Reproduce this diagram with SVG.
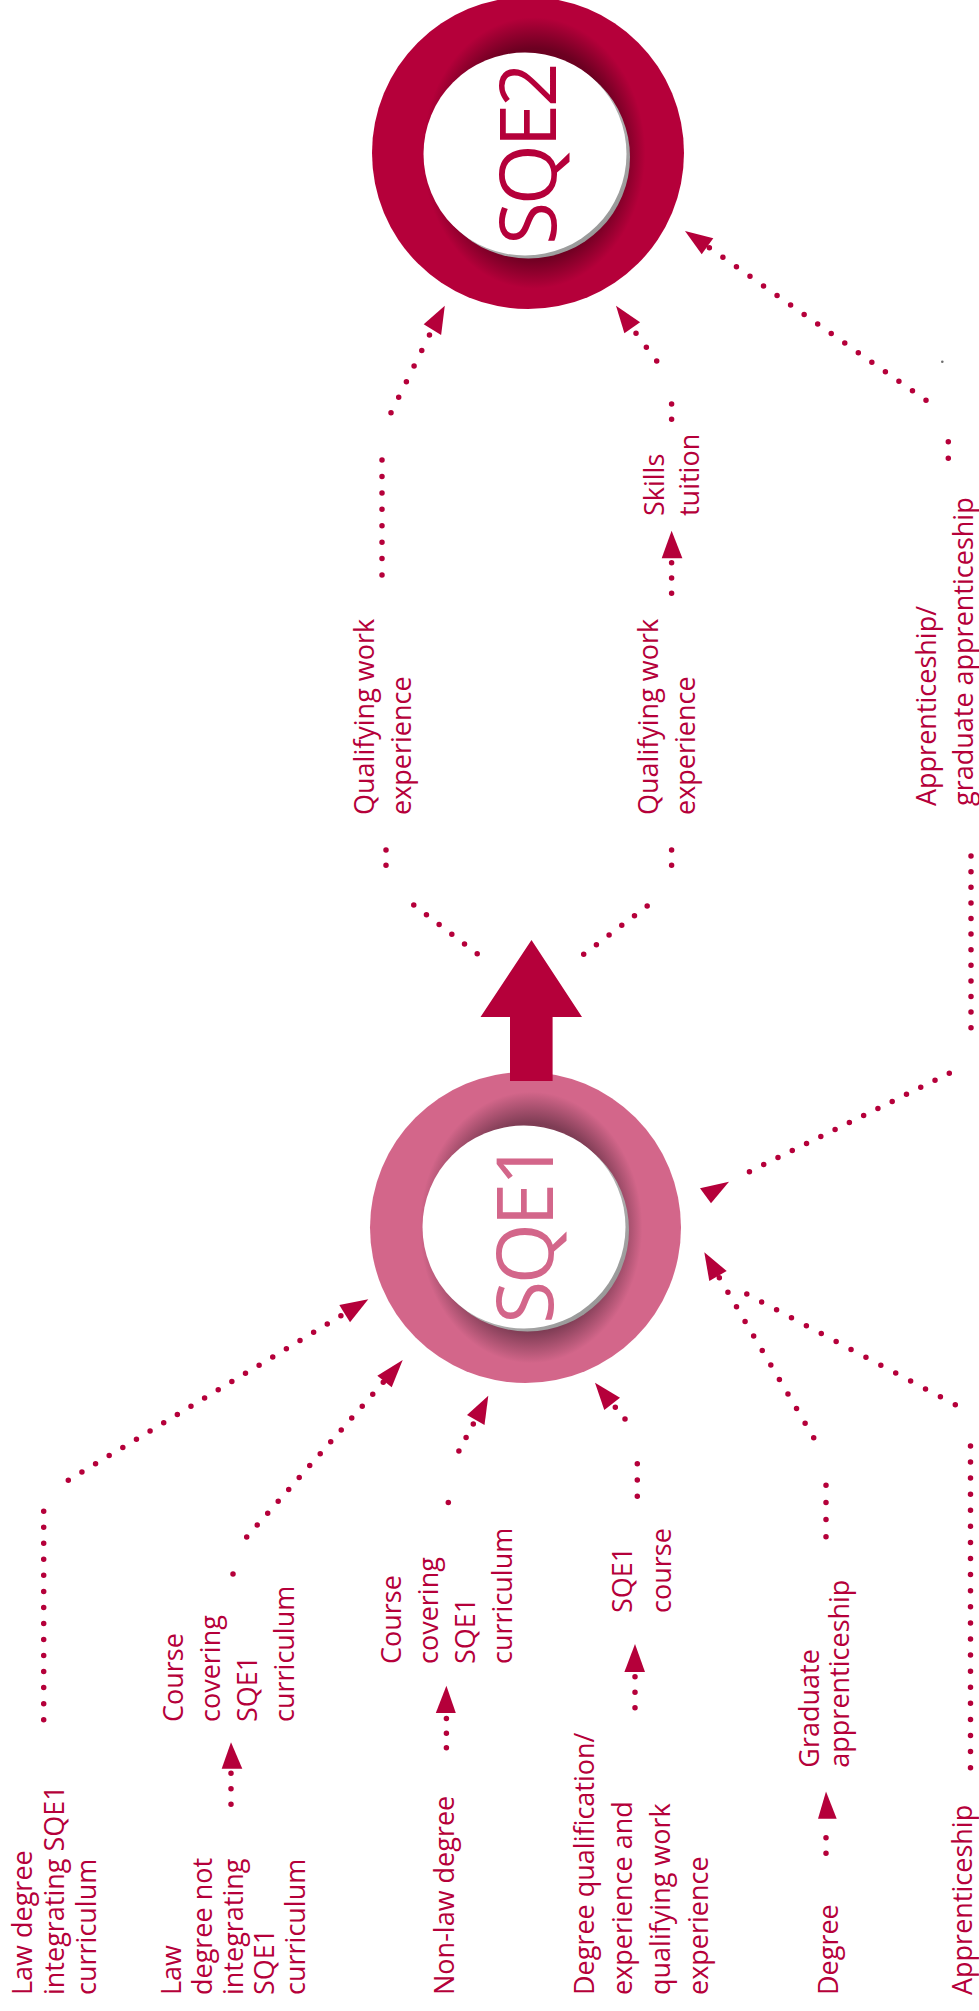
<svg xmlns="http://www.w3.org/2000/svg" width="979" height="2011" viewBox="0 0 979 2011">
  <style>
    .lbl { font-family: 'Open Sans', 'Liberation Sans', sans-serif; font-size: 27px; fill: #b5003a; }
    .big { font-family: 'Open Sans', 'Liberation Sans', sans-serif; font-size: 78px; letter-spacing: -3px; text-anchor: middle; }
    .dots { fill: none; stroke: #b5003a; stroke-width: 5.5; stroke-linecap: round; }
    .dot { fill: #b5003a; }
    .head { fill: #b5003a; }
  </style>
  <defs>
    <radialGradient id="ring2" gradientUnits="userSpaceOnUse" cx="0" cy="0" r="156" gradientTransform="translate(534,153) scale(0.82,1)">
      <stop offset="0.6" stop-color="#680020"/>
      <stop offset="0.67" stop-color="#6c0021"/>
      <stop offset="0.87" stop-color="#b5003a"/>
    </radialGradient>
    <radialGradient id="ring1" gradientUnits="userSpaceOnUse" cx="0" cy="0" r="156" gradientTransform="translate(531,1227.5) scale(0.82,1)">
      <stop offset="0.6" stop-color="#7c3b52"/>
      <stop offset="0.67" stop-color="#7f3d55"/>
      <stop offset="0.87" stop-color="#d3668a"/>
    </radialGradient>
    <linearGradient id="rim" x1="0" y1="0" x2="1" y2="1">
      <stop offset="0" stop-color="#e6e6e6"/>
      <stop offset="1" stop-color="#8c8c8c"/>
    </linearGradient>
  </defs>

  <!-- SQE2 target ring -->
  <g id="sqe2">
    <circle cx="528" cy="153" r="156" fill="url(#ring2)"/>
    <circle cx="528.5" cy="157" r="101.5" fill="url(#rim)"/>
    <circle cx="525" cy="154" r="101.5" fill="#ffffff"/>
    <text class="big" fill="#b5003a" transform="translate(556,155) rotate(-90)">SQE2</text>
  </g>

  <!-- SQE1 ring -->
  <g id="sqe1">
    <circle cx="525.5" cy="1227.5" r="155.5" fill="url(#ring1)"/>
    <circle cx="527.5" cy="1230" r="101.5" fill="url(#rim)"/>
    <circle cx="524" cy="1227" r="101.5" fill="#ffffff"/>
    <text class="big" fill="#d3668a" transform="translate(553,1234) rotate(-90)">SQE1</text>
  </g>

  <!-- progression arrow SQE1 -> SQE2 -->
  <g id="main-arrow">
    <polygon class="head" points="531.5,940 582,1017 552.6,1017 552.6,1081 510,1081 510,1017 480.5,1017"/>
  </g>

  <!-- dotted connectors and arrowheads -->
  <g id="connectors">
    <!-- upper left: qualifying work experience -->
    <path class="dots" d="M477.2,953.7 L413.7,905" stroke-dasharray="0 15.99"/>
    <path class="dots" d="M386,865.3 L386,850" stroke-dasharray="0 15.29"/>
    <path class="dots" d="M382,575 L382,460" stroke-dasharray="0 16.42"/>
    <path class="dots" d="M391,412.7 L429.5,335" stroke-dasharray="0 17.33"/>
    <polygon class="head" points="444.8,305.7 423.7,324.3 441.1,335"/>

    <!-- upper right: qualifying work experience + skills tuition -->
    <path class="dots" d="M583.7,954.3 L647.2,906" stroke-dasharray="0 15.95"/>
    <path class="dots" d="M671.6,865.3 L671.6,850" stroke-dasharray="0 15.29"/>
    <path class="dots" d="M671.6,593.3 L671.6,562.7" stroke-dasharray="0 15.29"/>
    <polygon class="head" points="671.6,530.7 661.7,558.3 682.4,558.3"/>
    <path class="dots" d="M671.6,419.3 L671.6,404" stroke-dasharray="0 15.29"/>
    <path class="dots" d="M656.7,361 L636,333.3" stroke-dasharray="0 17.28"/>
    <polygon class="head" points="616,305.7 624.4,333.3 640.1,322.3"/>

    <!-- far right: apprenticeship / graduate apprenticeship -->
    <path class="dots" d="M949.3,1073.3 L749.3,1171.7" stroke-dasharray="0 15.91"/>
    <polygon class="head" points="700,1188.3 729,1181.7 711,1203.3"/>
    <path class="dots" d="M971,1027.7 L971,856" stroke-dasharray="0 15.6"/>
    <path class="dots" d="M948.3,458.3 L948.3,441.7" stroke-dasharray="0 16.59"/>
    <path class="dots" d="M926,400.3 L709.3,247.7" stroke-dasharray="0 16.56"/>
    <polygon class="head" points="685,231 713.3,238.3 701.7,254.3"/>
    <circle cx="942.3" cy="361.7" r="1.3" fill="#6e6e6e"/>

    <!-- law degree integrating SQE1 curriculum -->
    <path class="dots" d="M43.7,1719.7 L43.7,1511" stroke-dasharray="0 16.04"/>
    <path class="dots" d="M68.3,1480.3 L341,1315.7" stroke-dasharray="0 15.92"/>
    <polygon class="head" points="368.3,1299.3 339.3,1305 350,1322.3"/>

    <!-- law degree not integrating SQE1 curriculum -->
    <path class="dots" d="M231,1804.2 L231,1773.2" stroke-dasharray="0 15.49"/>
    <polygon class="head" points="231,1742.3 221.7,1768.8 242.3,1768.8"/>
    <circle class="dot" cx="233" cy="1574" r="2.75"/>
    <path class="dots" d="M246.7,1537 L383.3,1382.3" stroke-dasharray="0 15.87"/>
    <polygon class="head" points="402.7,1360 377.3,1375.7 391.7,1387.3"/>

    <!-- non-law degree -->
    <path class="dots" d="M446.4,1747.7 L446.4,1718.6" stroke-dasharray="0 14.54"/>
    <polygon class="head" points="446.4,1685.8 435.8,1713 455.8,1713"/>
    <circle class="dot" cx="448.3" cy="1502.6" r="2.75"/>
    <path class="dots" d="M458.9,1451 L473.3,1424" stroke-dasharray="0 15.29"/>
    <polygon class="head" points="488.3,1395.7 467,1415 484.5,1425"/>

    <!-- degree qualification / experience -->
    <path class="dots" d="M635,1707.7 L635,1676.7" stroke-dasharray="0 15.49"/>
    <polygon class="head" points="635,1644 624.4,1672 645,1672"/>
    <path class="dots" d="M637.3,1496.3 L637.3,1463.7" stroke-dasharray="0 16.29"/>
    <path class="dots" d="M625,1419 L615.3,1407.3" stroke-dasharray="0 15.19"/>
    <polygon class="head" points="595,1382.7 620,1397.7 604.3,1410"/>

    <!-- degree + graduate apprenticeship -->
    <path class="dots" d="M826,1853.3 L826,1837.7" stroke-dasharray="0 15.59"/>
    <polygon class="head" points="826,1791.4 818,1818.7 836.7,1818.7"/>
    <path class="dots" d="M826,1536.7 L826,1485.3" stroke-dasharray="0 17.12"/>
    <path class="dots" d="M813.7,1437.7 L719.3,1277.7" stroke-dasharray="0 16.88"/>

    <!-- apprenticeship -->
    <path class="dots" d="M970.5,1767.7 L970.5,1445.7" stroke-dasharray="0 16.09"/>
    <path class="dots" d="M955.3,1404.7 L746.7,1294" stroke-dasharray="0 16.86"/>
    <polygon class="head" points="704.3,1252.3 726.7,1271 709.3,1281"/>
  </g>

  <!-- route labels -->
  <g id="lbl-qwe-left">
    <text class="lbl" transform="translate(374,815) rotate(-90)"><tspan x="0" y="0">Qualifying work</tspan><tspan x="0" y="37">experience</tspan></text>
  </g>
  <g id="lbl-qwe-right">
    <text class="lbl" transform="translate(658,815) rotate(-90)"><tspan x="0" y="0">Qualifying work</tspan><tspan x="0" y="37">experience</tspan></text>
  </g>
  <g id="lbl-skills">
    <text class="lbl" transform="translate(664,516) rotate(-90)"><tspan x="0" y="0">Skills</tspan><tspan x="0" y="35">tuition</tspan></text>
  </g>
  <g id="lbl-apprenticeship-grad">
    <text class="lbl" transform="translate(936,806) rotate(-90)"><tspan x="0" y="0">Apprenticeship/</tspan><tspan x="0" y="37">graduate apprenticeship</tspan></text>
  </g>
  <g id="lbl-law-integrating">
    <text class="lbl" transform="translate(32,1995) rotate(-90)"><tspan x="0" y="0">Law degree</tspan><tspan x="0" y="32">integrating SQE1</tspan><tspan x="0" y="64">curriculum</tspan></text>
  </g>
  <g id="lbl-law-not-integrating">
    <text class="lbl" transform="translate(180.5,1995) rotate(-90)"><tspan x="0" y="0">Law</tspan><tspan x="0" y="31">degree not</tspan><tspan x="0" y="62">integrating</tspan><tspan x="0" y="93">SQE1</tspan><tspan x="0" y="124">curriculum</tspan></text>
  </g>
  <g id="lbl-course-1">
    <text class="lbl" transform="translate(183,1722) rotate(-90)"><tspan x="0" y="0">Course</tspan><tspan x="0" y="37">covering</tspan><tspan x="0" y="74">SQE1</tspan><tspan x="0" y="111">curriculum</tspan></text>
  </g>
  <g id="lbl-non-law">
    <text class="lbl" transform="translate(453.5,1995) rotate(-90)">Non-law degree</text>
  </g>
  <g id="lbl-course-2">
    <text class="lbl" transform="translate(400.5,1664) rotate(-90)"><tspan x="0" y="0">Course</tspan><tspan x="0" y="37">covering</tspan><tspan x="0" y="74">SQE1</tspan><tspan x="0" y="111">curriculum</tspan></text>
  </g>
  <g id="lbl-degree-qual">
    <text class="lbl" transform="translate(594,1995) rotate(-90)"><tspan x="0" y="0">Degree qualification/</tspan><tspan x="0" y="38">experience and</tspan><tspan x="0" y="76">qualifying work</tspan><tspan x="0" y="114">experience</tspan></text>
  </g>
  <g id="lbl-sqe1-course">
    <text class="lbl" transform="translate(631.5,1613) rotate(-90)"><tspan x="0" y="0">SQE1</tspan><tspan x="0" y="39">course</tspan></text>
  </g>
  <g id="lbl-degree">
    <text class="lbl" transform="translate(837.5,1995) rotate(-90)">Degree</text>
  </g>
  <g id="lbl-grad-app">
    <text class="lbl" transform="translate(818.5,1767.7) rotate(-90)"><tspan x="0" y="0">Graduate</tspan><tspan x="0" y="30">apprenticeship</tspan></text>
  </g>
  <g id="lbl-apprenticeship">
    <text class="lbl" transform="translate(971.5,1995) rotate(-90)">Apprenticeship</text>
  </g>
</svg>
